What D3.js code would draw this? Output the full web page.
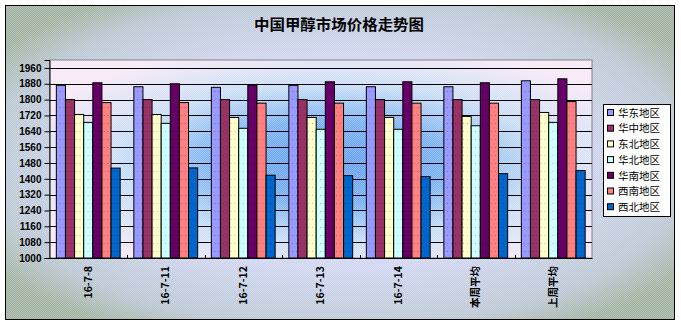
<!DOCTYPE html>
<html><head><meta charset="utf-8">
<script src="https://cdn.jsdelivr.net/npm/d3@7"></script>
<style>body{margin:0;background:#fff}svg{display:block}</style>
</head><body><svg id="c" width="681" height="328"></svg>
<script>
// Methanol prices by region (yuan/ton)
const categories = ["16-7-8", "16-7-11", "16-7-12", "16-7-13", "16-7-14", "本周平均", "上周平均"];
const seriesNames = ["华东地区", "华中地区", "东北地区", "华北地区", "华南地区", "西南地区", "西北地区"];
const huadong  = [1872, 1865, 1862, 1872, 1865, 1865, 1895];
const huazhong = [1800, 1800, 1800, 1800, 1800, 1800, 1800];
const dongbei  = [1725, 1725, 1710, 1710, 1710, 1715, 1735];
const huabei   = [1685, 1680, 1655, 1650, 1650, 1668, 1685];
const huanan   = [1885, 1880, 1872, 1890, 1890, 1885, 1905];
const xinan    = [1785, 1785, 1782, 1782, 1782, 1782, 1790];
const xibei    = [1454, 1455, 1418, 1416, 1411, 1426, 1442];
const yTicks = [1000, 1080, 1160, 1240, 1320, 1400, 1480, 1560, 1640, 1720, 1800, 1880, 1960];
const colors = ["#9999FF", "#993366", "#FFFFCC", "#CCFFFF", "#660066", "#FF8080", "#0066CC"];

const series = [huadong, huazhong, dongbei, huabei, huanan, xinan, xibei];

const svg = d3.select("#c");
const defs = svg.append("defs");

// chart area: shaded from the centre outwards
const bg = defs.append("radialGradient").attr("id", "bg")
  .attr("cx", "50%").attr("cy", "50%").attr("r", "62%");
bg.append("stop").attr("offset", "0%").attr("stop-color", "#d6d8f6");
bg.append("stop").attr("offset", "55%").attr("stop-color", "#cfd4f0");
bg.append("stop").attr("offset", "85%").attr("stop-color", "#b9c6d2");
bg.append("stop").attr("offset", "100%").attr("stop-color", "#9fb09e");

// plot area: blue centre fading to pale lilac
const pg = defs.append("radialGradient").attr("id", "pg")
  .attr("cx", "52%").attr("cy", "52%").attr("r", "60%");
pg.append("stop").attr("offset", "0%").attr("stop-color", "#5f9cf0");
pg.append("stop").attr("offset", "35%").attr("stop-color", "#74aef4");
pg.append("stop").attr("offset", "65%").attr("stop-color", "#c6dcf6");
pg.append("stop").attr("offset", "100%").attr("stop-color", "#f6e8f6");

// fine dither texture
const dither = defs.append("pattern").attr("id", "dither")
  .attr("width", 2).attr("height", 2).attr("patternUnits", "userSpaceOnUse");
dither.append("rect").attr("width", 1).attr("height", 1).attr("fill", "#fff").attr("opacity", 0.25);
dither.append("rect").attr("x", 1).attr("y", 1).attr("width", 1).attr("height", 1).attr("fill", "#fff").attr("opacity", 0.25);

// dotted fill for each bar series
colors.forEach((c, i) => {
  const p = defs.append("pattern").attr("id", "bp" + i)
    .attr("width", 4).attr("height", 8).attr("patternUnits", "userSpaceOnUse");
  p.append("rect").attr("width", 4).attr("height", 8).attr("fill", c);
  p.append("rect").attr("x", 2).attr("y", 3).attr("width", 1).attr("height", 1)
    .attr("fill", d3.color(c).darker(1.2)).attr("opacity", 0.7);
});

// outer frame
svg.append("rect").attr("x", 5.5).attr("y", 5.5).attr("width", 669).attr("height", 314)
  .attr("fill", "url(#bg)");
svg.append("rect").attr("x", 5.5).attr("y", 5.5).attr("width", 669).attr("height", 314)
  .attr("fill", "url(#dither)").attr("stroke", "#000").attr("stroke-width", 1);

// title
svg.append("text").attr("x", 339).attr("y", 30).attr("text-anchor", "middle")
  .attr("font-family", "'Noto Sans CJK SC', sans-serif").attr("font-weight", "bold")
  .attr("font-size", 14.5).attr("textLength", 170).attr("lengthAdjust", "spacingAndGlyphs")
  .text("中国甲醇市场价格走势图");

const plotL = 49.5, plotR = 592, plotT = 60, plotB = 258;
const x0 = d3.scaleBand().domain(categories).range([plotL, plotR]).padding(0);
const bw = x0.bandwidth() / 8.5;
const x1 = d3.scaleBand().domain(seriesNames)
  .range([0.75 * bw, x0.bandwidth() - 0.75 * bw]).padding(0);
const y = d3.scaleLinear().domain([1000, 2000]).range([plotB, plotT]);

// plot area
svg.append("rect").attr("x", plotL).attr("y", plotT).attr("width", plotR - plotL).attr("height", plotB - plotT)
  .attr("fill", "url(#pg)");
svg.append("rect").attr("x", plotL).attr("y", plotT).attr("width", plotR - plotL).attr("height", plotB - plotT)
  .attr("fill", "url(#dither)").attr("stroke", "#808080").attr("stroke-width", 1);

// gridlines
svg.append("g").selectAll("line").data(yTicks.slice(1)).join("line")
  .attr("x1", plotL).attr("x2", plotR)
  .attr("y1", d => Math.round(y(d)) + 0.5).attr("y2", d => Math.round(y(d)) + 0.5)
  .attr("stroke", "#000").attr("stroke-width", 1);

// bars
const groups = svg.append("g").selectAll("g").data(categories).join("g")
  .attr("transform", c => `translate(${x0(c)},0)`);
groups.selectAll("rect").data((c, ci) => series.map((s, si) => ({ si, v: s[ci] }))).join("rect")
  .attr("x", d => x1(seriesNames[d.si]))
  .attr("width", x1.bandwidth())
  .attr("y", d => y(d.v))
  .attr("height", d => plotB - y(d.v))
  .attr("fill", d => `url(#bp${d.si})`)
  .attr("stroke", "#000").attr("stroke-width", 1);

// y axis
const yAxis = svg.append("g").attr("transform", `translate(${plotL},0)`)
  .call(d3.axisLeft(y).tickValues(yTicks).tickSize(5).tickPadding(3).tickFormat(d3.format("d")));
yAxis.select(".domain").attr("stroke", "#000");
yAxis.selectAll("line").attr("stroke", "#000");
yAxis.selectAll("text").attr("font-family", "'Liberation Sans', Arial, sans-serif")
  .attr("font-weight", "bold").attr("font-size", 10).attr("fill", "#000");

// x axis
const xAxis = svg.append("g").attr("transform", `translate(0,${plotB})`)
  .call(d3.axisBottom(x0).tickSize(0).tickPadding(8));
xAxis.select(".domain").attr("stroke", "#000");
xAxis.selectAll("text")
  .attr("font-family", "'Noto Sans CJK SC', 'Liberation Sans', sans-serif")
  .attr("font-weight", "bold").attr("font-size", 10.5).attr("fill", "#000")
  .attr("text-anchor", "end").attr("dy", "0.35em")
  .attr("transform", "rotate(-90)")
  .attr("x", -8).attr("y", 0);
// category divider ticks
svg.append("g").selectAll("line").data(categories.slice(1)).join("line")
  .attr("x1", c => Math.round(x0(c)) + 0.5).attr("x2", c => Math.round(x0(c)) + 0.5)
  .attr("y1", plotB - 3).attr("y2", plotB).attr("stroke", "#000");

// legend
const lg = svg.append("g");
lg.append("rect").attr("x", 603.5).attr("y", 104.5).attr("width", 67).attr("height", 112)
  .attr("fill", "#fff").attr("stroke", "#000").attr("stroke-width", 1);
const items = lg.selectAll("g").data(seriesNames).join("g")
  .attr("transform", (d, i) => `translate(607,${113 + i * 15.7})`);
items.append("rect").attr("x", 0.5).attr("y", -3.5).attr("width", 6).attr("height", 6)
  .attr("fill", (d, i) => colors[i]).attr("stroke", "#000");
items.append("text").attr("x", 11).attr("y", 0).attr("dy", "0.36em")
  .attr("font-family", "'Noto Sans CJK SC', sans-serif").attr("font-size", 10.5)
  .attr("fill", "#000").text(d => d);
</script></body></html>
